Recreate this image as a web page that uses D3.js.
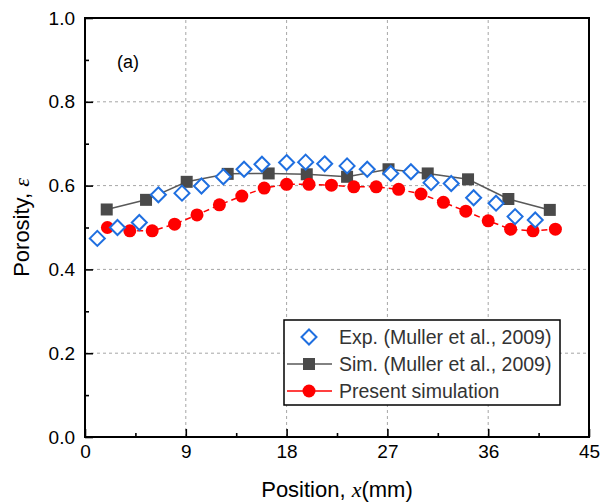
<!DOCTYPE html>
<html>
<head>
  <style>
    html, body { margin: 0; padding: 0; background: #fff; }
    svg { display: block; font-family: Arial, "Liberation Sans", sans-serif; }
  </style>
  <script src="https://d3js.org/d3.v7.min.js"></script>
</head>
<body>
  <div id="chart"></div>
  <script>
    // Exp. (Muller et al., 2009)
    const expX = [1.1, 2.9, 4.85, 6.55, 8.66, 10.4, 12.35, 14.2, 15.8, 18.0, 19.7, 21.4,
                  23.4, 25.2, 27.3, 29.1, 30.9, 32.7, 34.7, 36.7, 38.4, 40.2];
    const expY = [0.474, 0.500, 0.512, 0.578, 0.582, 0.599, 0.621, 0.639, 0.651, 0.655, 0.656, 0.652,
                  0.647, 0.639, 0.629, 0.633, 0.607, 0.605, 0.571, 0.558, 0.526, 0.518];
    // Sim. (Muller et al., 2009)
    const simX = [1.94, 5.45, 9.08, 12.74, 16.4, 19.8, 23.4, 27.1, 30.6, 34.2, 37.8, 41.5];
    const simY = [0.543, 0.566, 0.609, 0.628, 0.629, 0.627, 0.621, 0.639, 0.629, 0.615, 0.568, 0.542];
    // Present simulation
    const preX = [2, 4, 6, 8, 10, 12, 14, 16, 18, 20, 22, 24, 26, 28, 30, 32, 34, 36, 38, 40, 42];
    const preY = [0.500, 0.492, 0.492, 0.508, 0.530, 0.554, 0.575, 0.594, 0.603, 0.603, 0.601,
                  0.597, 0.597, 0.591, 0.580, 0.560, 0.539, 0.516, 0.496, 0.492, 0.496];

    const xTicks = [0, 9, 18, 27, 36, 45];
    const yTicks = [0.0, 0.2, 0.4, 0.6, 0.8, 1.0];
    const legendLabels = ["Exp. (Muller et al., 2009)", "Sim. (Muller et al., 2009)", "Present simulation"];

    const W = 600, H = 503;
    const margin = {left: 85, right: 11, top: 18, bottom: 66};

    const svg = d3.select("#chart").append("svg")
      .attr("width", W).attr("height", H);

    const x = d3.scaleLinear().domain([0, 45]).range([margin.left, W - margin.right]);
    const y = d3.scaleLinear().domain([0, 1]).range([H - margin.bottom, margin.top]);

    // grid
    const grid = svg.append("g").attr("stroke", "#a6a6a6").attr("stroke-dasharray", "3,3").attr("stroke-width", 1);
    grid.selectAll(".gx").data(xTicks.slice(1, -1)).enter().append("line")
      .attr("x1", d => x(d)).attr("x2", d => x(d))
      .attr("y1", y(0)).attr("y2", y(1));
    grid.selectAll(".gy").data(yTicks.slice(1, -1)).enter().append("line")
      .attr("x1", x(0)).attr("x2", x(45))
      .attr("y1", d => y(d)).attr("y2", d => y(d));

    // axes (inward ticks)
    svg.append("g").attr("transform", `translate(0,${y(0)})`)
      .call(d3.axisBottom(x).tickValues(xTicks).tickSize(-8).tickPadding(8).tickFormat(d3.format("d")));
    svg.append("g").attr("transform", `translate(0,${y(0)})`)
      .call(d3.axisBottom(x).tickValues(d3.range(4.5, 45, 9)).tickSize(-4).tickFormat(""));
    svg.append("g").attr("transform", `translate(${x(0)},0)`)
      .call(d3.axisLeft(y).tickValues(yTicks).tickSize(-8).tickPadding(10).tickFormat(d3.format(".1f")));
    svg.append("g").attr("transform", `translate(${x(0)},0)`)
      .call(d3.axisLeft(y).tickValues(d3.range(0.1, 1, 0.2)).tickSize(-4).tickFormat(""));

    svg.selectAll(".domain").remove();
    svg.selectAll(".tick line").attr("stroke", "#000").attr("stroke-width", 1.6);
    svg.selectAll(".tick text").attr("font-size", 19).attr("fill", "#000")
      .attr("font-family", "Arial, 'Liberation Sans', sans-serif");

    // frame
    svg.append("rect")
      .attr("x", x(0)).attr("y", y(1))
      .attr("width", x(45) - x(0)).attr("height", y(0) - y(1))
      .attr("fill", "none").attr("stroke", "#000").attr("stroke-width", 2);

    const line = d3.line().x(d => x(d[0])).y(d => y(d[1]));
    const simData = d3.zip(simX, simY);
    const preData = d3.zip(preX, preY);
    const expData = d3.zip(expX, expY);

    const diamond = s => `M0,${-s}L${s},0L0,${s}L${-s},0Z`;

    // Sim
    svg.append("path").datum(simData).attr("d", line)
      .attr("fill", "none").attr("stroke", "#595959").attr("stroke-width", 1.5);
    svg.selectAll(".sim").data(simData).enter().append("rect")
      .attr("x", d => x(d[0]) - 6).attr("y", d => y(d[1]) - 6)
      .attr("width", 12).attr("height", 12).attr("fill", "#4a4a4a");

    // Present
    svg.append("path").datum(preData).attr("d", line)
      .attr("fill", "none").attr("stroke", "#ff0000").attr("stroke-width", 1.5)
      .attr("stroke-dasharray", "6,4");
    svg.selectAll(".pre").data(preData).enter().append("circle")
      .attr("cx", d => x(d[0])).attr("cy", d => y(d[1])).attr("r", 6.5)
      .attr("fill", "#ff0000");

    // Exp
    svg.selectAll(".exp").data(expData).enter().append("path")
      .attr("transform", d => `translate(${x(d[0])},${y(d[1])})`)
      .attr("d", diamond(7.5))
      .attr("fill", "#fff").attr("stroke", "#1f6fe0").attr("stroke-width", 2);

    // (a)
    svg.append("text").attr("x", 117).attr("y", 68).attr("font-size", 18).text("(a)");

    // legend
    const lg = svg.append("g").attr("transform", "translate(284,320)");
    lg.append("rect").attr("width", 276).attr("height", 85)
      .attr("fill", "#fff").attr("stroke", "#000").attr("stroke-width", 1.5);
    const rows = [17, 44, 71];
    lg.append("path").attr("transform", `translate(25,${rows[0]})`).attr("d", diamond(7.5))
      .attr("fill", "#fff").attr("stroke", "#1f6fe0").attr("stroke-width", 2);
    lg.append("line").attr("x1", 3).attr("x2", 48).attr("y1", rows[1]).attr("y2", rows[1])
      .attr("stroke", "#595959").attr("stroke-width", 1.5);
    lg.append("rect").attr("x", 19).attr("y", rows[1] - 6).attr("width", 12).attr("height", 12).attr("fill", "#4a4a4a");
    lg.append("line").attr("x1", 3).attr("x2", 48).attr("y1", rows[2]).attr("y2", rows[2])
      .attr("stroke", "#ff0000").attr("stroke-width", 1.5);
    lg.append("circle").attr("cx", 25).attr("cy", rows[2]).attr("r", 6.5).attr("fill", "#ff0000");
    lg.selectAll(".lt").data(legendLabels).enter().append("text")
      .attr("x", 55).attr("y", (d, i) => rows[i] + 7)
      .attr("font-size", 19.5).attr("fill", "#333").text(d => d);

    // axis titles
    const xt = svg.append("text").attr("x", (x(0) + x(45)) / 2).attr("y", 497)
      .attr("text-anchor", "middle").attr("font-size", 22);
    xt.append("tspan").text("Position, ");
    xt.append("tspan").attr("font-family", "'Liberation Serif', 'DejaVu Serif', serif").attr("font-style", "italic").text("x");
    xt.append("tspan").text("(mm)");

    const yt = svg.append("text").attr("transform", `translate(29,${(y(0) + y(1)) / 2}) rotate(-90)`)
      .attr("text-anchor", "middle").attr("font-size", 22);
    yt.append("tspan").text("Porosity, ");
    yt.append("tspan").attr("font-family", "'Liberation Serif', 'DejaVu Serif', serif").attr("font-style", "italic").text("ε");
  </script>
</body>
</html>
